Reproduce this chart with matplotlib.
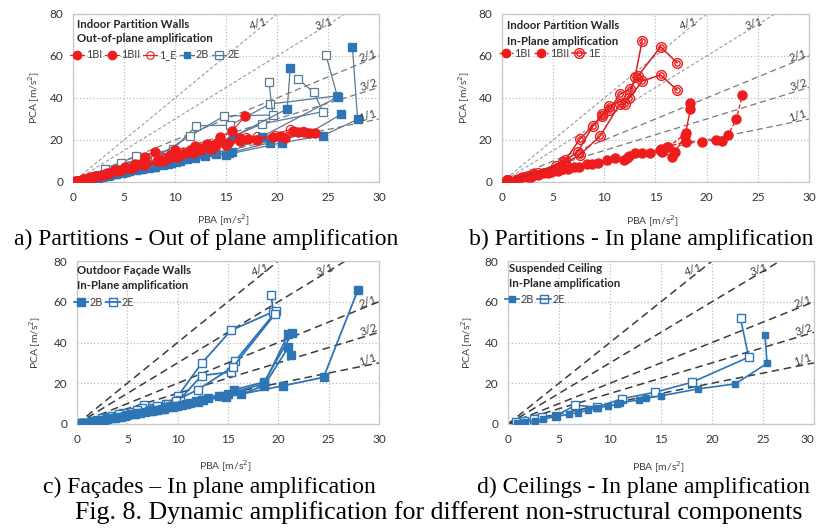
import matplotlib
matplotlib.use("Agg")
import matplotlib.pyplot as plt
from matplotlib.path import Path
from matplotlib.lines import Line2D

plt.rcParams['font.family'] = ['Lato', 'DejaVu Sans']

# amplification reference lines (PCA = k * PBA)
RATIOS = [4, 3, 2, 1.5, 1]
RATIO_LABELS = ["4/1", "3/1", "2/1", "3/2", "1/1"]
RATIO_LABEL_XY = [(18.2, 75.5), (24.6, 75.5), (28.9, 60.0), (29.0, 46.0), (28.9, 31.5)]

XTICKS = [0, 5, 10, 15, 20, 25, 30]
YTICKS = [0, 20, 40, 60, 80]

# ---- a) partitions, out of plane (each series = list of runs of (PBA, PCA))
A_1BI = [
    [(0.3, 0.4), (1.0, 1.3), (2.0, 2.6), (3.1, 4.0), (4.1, 5.6), (5.1, 7.0), (6.1, 8.6), (7.1, 12.1),
     (8.0, 14.5), (9.5, 13.0), (10.0, 15.2), (12.0, 17.1), (13.1, 17.9), (14.4, 21.6), (15.6, 24.3), (16.9, 31.4)],
    [(0.4, 0.4), (1.2, 1.4), (2.2, 2.7), (3.3, 4.2), (4.5, 5.5), (5.6, 6.8), (6.8, 8.5), (8.2, 10.2),
     (9.4, 11.6), (10.5, 13.0), (11.6, 15.2), (12.5, 16.0), (14.0, 17.5), (16.4, 20.8), (19.6, 21.6), (21.6, 24.3), (23.1, 23.2)],
]
A_1BII = [
    [(0.5, 0.5), (1.5, 1.9), (2.5, 3.0), (3.6, 4.3), (4.8, 5.8), (6.0, 7.2), (7.2, 8.8), (8.5, 10.5),
     (9.8, 12.2), (11.0, 13.6), (12.5, 15.4), (13.8, 16.8), (15.2, 18.5), (17.2, 20.6), (20.3, 21.9), (22.1, 24.0), (23.7, 23.5)],
    [(0.6, 0.6), (1.8, 2.3), (3.0, 3.5), (4.4, 5.0), (5.8, 6.7), (7.0, 8.0), (8.8, 10.0), (10.2, 11.8),
     (11.8, 13.8), (13.5, 15.5), (15.0, 17.6), (16.4, 19.5), (18.0, 20.2), (20.8, 21.0), (22.6, 24.0)],
]
A_1E = [
    [(0.4, 0.5), (1.5, 2.0), (3.0, 3.8), (4.5, 5.6), (6.0, 7.5), (7.5, 9.4), (9.0, 11.2), (10.5, 13.2),
     (12.2, 15.6), (13.9, 18.0), (15.5, 20.0), (17.0, 21.5), (18.0, 21.9), (19.8, 22.5), (21.3, 25.1), (22.5, 24.2)],
]
A_2B = [
    [(0.3, 0.3), (1.0, 0.9), (2.0, 1.8), (3.0, 2.7), (4.2, 3.8), (5.5, 5.0), (6.8, 6.2), (8.0, 7.2), (9.3, 8.6),
     (10.5, 9.8), (12.0, 11.5), (14.0, 13.2), (15.3, 13.8), (19.3, 18.7), (23.2, 23.5), (26.3, 32.2)],
    [(0.4, 0.4), (1.3, 1.1), (2.4, 2.1), (3.6, 3.2), (4.8, 4.5), (6.2, 5.6), (7.4, 6.8), (8.8, 8.0), (10.1, 9.5),
     (11.2, 10.8), (12.9, 12.5), (15.0, 13.0), (20.5, 18.7), (24.5, 22.1), (27.9, 29.8), (27.4, 64.4)],
    [(0.5, 0.5), (1.6, 1.4), (2.8, 2.5), (4.0, 3.6), (5.2, 4.8), (6.5, 6.0), (7.8, 7.3), (9.0, 9.0),
     (10.8, 11.0), (12.2, 13.5), (15.7, 21.6), (21.0, 34.8), (21.3, 54.4)],
    [(0.6, 0.5), (2.0, 1.9), (3.4, 3.0), (5.0, 4.6), (7.0, 6.5), (9.6, 9.2), (11.5, 12.0), (13.5, 14.5),
     (15.6, 14.5), (18.5, 21.6), (26.0, 40.6)],
]
A_2E = [
    [(0.4, 0.5), (1.5, 2.0), (3.1, 6.3), (6.2, 12.2), (9.8, 15.5), (12.1, 26.8), (15.4, 27.0),
     (19.3, 37.1), (25.9, 41.0), (24.8, 60.5)],
    [(0.5, 0.6), (2.0, 2.5), (4.7, 8.9), (8.0, 11.5), (11.5, 22.0), (14.8, 31.4), (19.6, 31.9), (19.2, 47.8)],
    [(0.5, 0.5), (2.5, 3.5), (5.5, 7.5), (9.0, 11.0), (13.0, 16.0), (18.5, 27.6), (24.5, 33.5),
     (23.6, 42.7), (22.1, 48.9)],
]

# ---- b) partitions, in plane
B_1BI = [
    [(0.5, 0.5), (1.5, 1.4), (2.5, 2.4), (3.5, 3.3), (4.5, 4.4), (5.5, 5.2), (7.0, 7.0), (8.3, 8.6),
     (10.3, 10.5), (11.9, 10.5), (13.0, 13.6), (14.5, 13.6), (15.6, 14.4), (16.6, 12.1), (16.9, 14.4),
     (17.9, 21.9), (18.4, 34.6), (18.4, 37.5)],
]
B_1BII = [
    [(0.6, 0.6), (2.0, 2.2), (3.0, 3.1), (4.0, 4.2), (5.0, 5.0), (6.0, 6.0), (7.5, 7.2), (9.4, 9.2),
     (11.0, 11.3), (12.2, 11.3), (13.7, 13.6), (15.4, 15.2), (16.1, 16.8), (18.0, 19.2), (19.5, 19.2),
     (20.9, 20.0), (21.5, 19.5), (22.1, 22.5), (22.9, 29.8), (23.5, 41.6)],
    [(0.7, 0.7), (2.8, 2.6), (4.8, 4.6), (6.5, 6.4), (8.8, 8.5), (12.4, 12.3), (15.5, 15.8), (16.2, 16.5),
     (18.0, 23.2)],
]
B_1E = [
    [(0.5, 0.7), (2.5, 3.0), (5.3, 7.8), (6.2, 10.5), (7.6, 20.3), (9.8, 31.4), (10.5, 36.2),
     (12.4, 40.2), (13.0, 50.0), (13.7, 67.3)],
    [(0.5, 0.8), (3.0, 4.0), (6.0, 9.5), (7.4, 14.4), (8.9, 26.7), (9.8, 32.2), (10.5, 34.3),
     (11.5, 41.7), (12.5, 44.1), (13.3, 50.5), (15.5, 64.4), (17.1, 56.8)],
    [(0.6, 0.8), (3.5, 4.5), (6.2, 9.0), (7.6, 12.9), (9.6, 21.9), (11.5, 37.0), (12.0, 37.0),
     (13.7, 48.0), (15.5, 51.0), (17.1, 43.8)],
]

# ---- c) facades, in plane
C_2B = [
    [(0.5, 0.4), (1.5, 1.2), (2.7, 2.2), (3.8, 3.0), (5.0, 4.2), (6.3, 5.3), (7.5, 6.5), (8.6, 7.5),
     (9.5, 8.5), (10.8, 9.7), (12.5, 11.8), (14.8, 13.2), (20.5, 18.8), (24.5, 22.9), (27.9, 65.6)],
    [(0.6, 0.5), (1.8, 1.5), (3.0, 2.5), (4.4, 3.6), (5.6, 4.8), (6.8, 5.9), (8.0, 7.0), (9.2, 8.2),
     (10.4, 9.3), (11.8, 11.3), (13.0, 12.7), (14.1, 13.8), (15.6, 16.8), (18.6, 20.6), (21.4, 44.7)],
    [(0.7, 0.5), (2.1, 1.7), (3.4, 2.8), (4.8, 4.0), (6.0, 5.2), (7.2, 6.3), (8.4, 7.5), (9.6, 8.7),
     (11.2, 10.2), (12.4, 11.7), (14.5, 13.5), (16.3, 14.6), (18.6, 18.8), (21.0, 37.7), (21.3, 34.0)],
    [(0.8, 0.6), (2.5, 2.0), (4.0, 3.4), (5.8, 4.8), (7.8, 6.8), (9.9, 9.0), (12.0, 11.0), (15.0, 14.8),
     (18.6, 19.8), (21.0, 44.2)],
]
C_2E = [
    [(0.5, 0.5), (1.5, 1.5), (2.8, 3.3), (4.6, 5.3), (6.7, 9.4), (8.8, 9.8), (10.0, 13.5), (12.4, 29.9),
     (15.3, 45.9), (19.5, 55.1), (19.3, 63.2)],
    [(0.6, 0.5), (2.0, 2.2), (3.5, 3.8), (5.5, 6.0), (6.5, 8.0), (9.0, 9.8), (10.2, 12.0), (12.4, 23.8),
     (15.3, 25.5), (15.7, 30.8), (19.8, 55.4)],
    [(0.6, 0.6), (2.5, 2.8), (4.2, 4.8), (6.0, 6.8), (8.0, 8.8), (9.8, 11.5), (12.0, 16.8), (15.5, 28.0),
     (19.7, 54.1)],
]

# ---- d) ceilings, in plane
D_2B = [
    [(0.9, 0.5), (1.6, 1.0), (2.6, 1.6), (3.4, 2.4), (4.7, 3.7), (6.0, 4.8), (6.9, 5.6), (7.8, 6.8),
     (8.7, 7.9), (9.8, 8.8), (10.7, 9.6), (11.0, 10.4), (12.8, 11.8), (13.5, 12.6), (15.0, 13.8),
     (18.6, 17.2), (22.3, 19.7), (25.4, 29.8), (25.2, 43.5)],
]
D_2E = [
    [(0.8, 0.8), (1.6, 1.6), (2.5, 2.6), (3.3, 3.5), (4.7, 4.0), (6.6, 9.2), (8.7, 8.3), (11.2, 12.4),
     (14.4, 15.6), (18.0, 20.4), (23.6, 32.8), (22.8, 51.8)],
]

RED = "#ee1c1c"
BLUE = "#2e75b6"
SLATE = "#5b7a94"

ring = Path.make_compound_path(Path.unit_circle(),
                               Path(Path.unit_circle().vertices * 0.55, Path.unit_circle().codes))


def draw_runs(ax, runs, **kw):
    for run in runs:
        xs = [p[0] for p in run]
        ys = [p[1] for p in run]
        ax.plot(xs, ys, zorder=3, **kw)


def setup(ax, rect, dark):
    ax.set_position(rect)
    ax.set_xlim(0, 30)
    ax.set_ylim(0, 80)
    ax.set_xticks(XTICKS)
    ax.set_yticks(YTICKS)
    ax.grid(True, color="#bdbdbd", linestyle=":", linewidth=0.9)
    ax.set_axisbelow(True)
    for s in ax.spines.values():
        s.set_color("#c8c8c8")
        s.set_linewidth(0.9)
    ax.tick_params(length=0, labelsize=8.5, colors="#333333", pad=7)
    ax.set_xlabel("PBA [m/s$^2$]", fontsize=7.5, color="#404040")
    ax.set_ylabel("PCA [m/s$^2$]", fontsize=7.5, color="#404040")
    for i, k in enumerate(RATIOS):
        if dark:
            col, lw, dash = "#3c3c3c", 1.1, (5, 3)
        elif k >= 3:
            col, lw, dash = "#9a9a9a", 0.8, (3, 2)
        else:
            col, lw, dash = "#7a7a7a", 0.9, (5, 3)
        ax.plot([0, 30], [0, 30 * k], color=col, lw=lw, dashes=dash, zorder=2)
        lx, ly = RATIO_LABEL_XY[i]
        ax.text(lx, ly, RATIO_LABELS[i], fontsize=8, color="#404040", rotation=18,
                ha="center", va="center", zorder=4)


def titles(ax, lines, ys, xl):
    for t, y in zip(lines, ys):
        ax.text(xl, y, t, transform=ax.transAxes, fontsize=8.2, fontweight="bold",
                color="#262626", ha="left", va="center", zorder=6)


def legend(ax, handles, labels, y):
    lg = ax.legend(handles, labels, loc="center left", bbox_to_anchor=(-0.01, y), frameon=False,
                   ncol=len(handles), fontsize=7.8, handlelength=1.3, handletextpad=0.15,
                   columnspacing=0.3, borderpad=0, borderaxespad=0)
    for t in lg.get_texts():
        t.set_color("#404040")


fig = plt.figure(figsize=(8.17, 5.29), dpi=100)
fig.patch.set_facecolor("white")

# a)
ax = fig.add_axes([0, 0, 1, 1])
setup(ax, [0.0894, 0.656, 0.3745, 0.3176], False)
draw_runs(ax, A_1E, color=RED, lw=0.8, marker="o", ms=6, mfc="none", mec=RED, mew=0.8)
draw_runs(ax, A_2E, color=SLATE, lw=0.9, marker="s", ms=6, mfc="white", mec=SLATE, mew=0.9)
draw_runs(ax, A_2B, color=SLATE, lw=0.9, marker="s", ms=5.5, mfc=BLUE, mec=BLUE)
draw_runs(ax, A_1BII, color=RED, lw=0.8, marker="o", ms=6.5, mfc=RED, mec=RED)
draw_runs(ax, A_1BI, color=RED, lw=0.8, marker="o", ms=6.5, mfc=RED, mec=RED)
titles(ax, ["Indoor Partition Walls", "Out-of-plane amplification"], [0.94, 0.851], 0.013)
h = [Line2D([], [], color=RED, lw=0.8, marker="o", ms=6, mfc=RED, mec=RED),
     Line2D([], [], color=RED, lw=0.8, marker="o", ms=6, mfc=RED, mec=RED),
     Line2D([], [], color=RED, lw=0.8, marker="o", ms=5.5, mfc="none", mec=RED, mew=0.8),
     Line2D([], [], color=SLATE, lw=0.9, marker="s", ms=5, mfc=BLUE, mec=BLUE),
     Line2D([], [], color=SLATE, lw=0.9, marker="s", ms=5.5, mfc="none", mec=SLATE, mew=0.9)]
legend(ax, h, ["1BI", "1BII", "1_E", "2B", "2E"], 0.756)
ax.yaxis.set_label_coords(-0.10, 0.5)
ax.xaxis.set_label_coords(0.49, -0.183)

# b)
ax = fig.add_axes([0, 0, 1, 1])
setup(ax, [0.6144, 0.656, 0.3758, 0.3176], False)
draw_runs(ax, B_1BII, color=RED, lw=1.0, dashes=(3, 1.5), marker="o", ms=6.5, mfc=RED, mec=RED)
draw_runs(ax, B_1BI, color=RED, lw=1.0, marker="o", ms=6.5, mfc=RED, mec=RED)
draw_runs(ax, B_1E, color="#d42020", lw=1.1, marker=ring, ms=7, mfc="none", mec=RED, mew=1.0)
titles(ax, ["Indoor Partition Walls", "In-Plane amplification"], [0.929, 0.835], 0.016)
h = [Line2D([], [], color=RED, lw=1.0, dashes=(3, 1.5), marker="o", ms=6, mfc=RED, mec=RED),
     Line2D([], [], color=RED, lw=1.0, dashes=(3, 1.5), marker="o", ms=6, mfc=RED, mec=RED),
     Line2D([], [], color=RED, lw=1.1, marker=ring, ms=7, mfc="none", mec=RED, mew=1.0)]
legend(ax, h, ["1BI", "1BII", "1E"], 0.766)
ax.yaxis.set_label_coords(-0.099, 0.5)
ax.xaxis.set_label_coords(0.49, -0.185)

# c)
ax = fig.add_axes([0, 0, 1, 1])
setup(ax, [0.0942, 0.1985, 0.3696, 0.3081], True)
draw_runs(ax, C_2E, color=BLUE, lw=1.3, marker="s", ms=6, mfc="white", mec=BLUE, mew=1.0)
draw_runs(ax, C_2B, color=BLUE, lw=1.3, marker="s", ms=5.5, mfc=BLUE, mec=BLUE)
titles(ax, ["Outdoor Façade Walls", "In-Plane amplification"], [0.94, 0.848], 0.0)
h = [Line2D([], [], color=BLUE, lw=1.3, marker="s", ms=5.5, mfc=BLUE, mec=BLUE),
     Line2D([], [], color=BLUE, lw=1.3, marker="s", ms=6, mfc="none", mec=BLUE, mew=1.0)]
legend(ax, h, ["2B", "2E"], 0.747)
ax.yaxis.set_label_coords(-0.113, 0.5)
ax.xaxis.set_label_coords(0.49, -0.209)

# d)
ax = fig.add_axes([0, 0, 1, 1])
setup(ax, [0.6218, 0.1985, 0.3745, 0.3081], True)
draw_runs(ax, D_2E, color=BLUE, lw=1.2, marker="s", ms=5.5, mfc="white", mec=BLUE, mew=1.0)
draw_runs(ax, D_2B, color=BLUE, lw=1.2, marker="s", ms=5, mfc=BLUE, mec=BLUE)
titles(ax, ["Suspended Ceiling", "In-Plane amplification"], [0.955, 0.863], 0.003)
h = [Line2D([], [], color=BLUE, lw=1.2, marker="s", ms=5, mfc=BLUE, mec=BLUE),
     Line2D([], [], color=BLUE, lw=1.2, marker="s", ms=5.5, mfc="none", mec=BLUE, mew=1.0)]
legend(ax, h, ["2B", "2E"], 0.765)
ax.yaxis.set_label_coords(-0.108, 0.5)
ax.xaxis.set_label_coords(0.49, -0.215)
# the last x tick label sits on the page edge
ax.get_xticklabels()[-1].set_ha("right")

# sub-captions
serif = ["Liberation Serif", "DejaVu Serif"]
fig.text(206 / 817, 1 - 239 / 529, "a) Partitions - Out of plane amplification", family=serif,
         fontsize=17, ha="center", va="center")
fig.text(641 / 817, 1 - 239 / 529, "b) Partitions - In plane amplification", family=serif,
         fontsize=17, ha="center", va="center")
fig.text(209 / 817, 1 - 487 / 529, "c) Façades – In plane amplification", family=serif,
         fontsize=17, ha="center", va="center")
fig.text(643 / 817, 1 - 487 / 529, "d) Ceilings - In plane amplification", family=serif,
         fontsize=17, ha="center", va="center")
fig.text(75 / 817, 1 - 513 / 529, "Fig. 8. Dynamic amplification for different non-structural components",
         family=serif, fontsize=18.6, ha="left", va="center")

fig.savefig("out.png", dpi=100)
